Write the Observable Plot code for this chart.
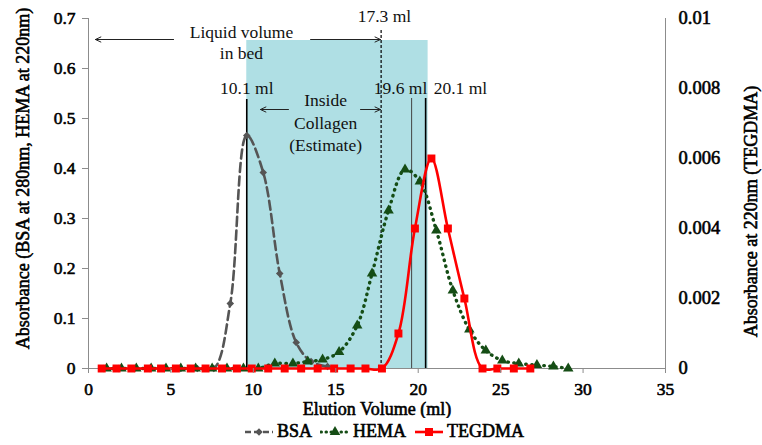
<!DOCTYPE html>
<html>
<head>
<meta charset="utf-8">
<script src="https://cdn.jsdelivr.net/npm/d3@7"></script>
<script src="https://cdn.jsdelivr.net/npm/@observablehq/plot@0.6"></script>
<style>
  body { margin: 0; background: #fff; font-family: "Liberation Serif", serif; }
  #legend { display: flex; justify-content: center; align-items: center; height: 27px;
            font: 18px "Liberation Serif", serif; padding-left: 6px;
            -webkit-text-stroke: 0.6px #000; color: #000; }
  .item { display: flex; align-items: center; margin: 0 4px; }
  .item svg { margin-right: 3px; }
  .chart g[aria-label$="tick label"] text { stroke: #000; stroke-width: 0.6px; paint-order: stroke; }
</style>
</head>
<body>
<div id="chart"></div>
<div id="legend"></div>
<script>
// ---- data ----
const bsaX = [0.9, 1.8, 2.8, 3.7, 4.6, 5.6, 6.6, 7.6, 8.6, 9.6, 10.6, 11.6, 12.6, 13.5, 14.5];
const bsaY = [0, 0, 0, 0, 0, 0, 0, 0, 0.13, 0.466, 0.392, 0.19, 0.052, 0.014, 0.004];

const hemaX = [1.1, 2.0, 2.9, 3.8, 4.7, 5.6, 6.5, 7.5, 8.4, 9.4, 10.3, 11.3, 12.4, 13.3, 14.2, 15.2, 16.3, 17.2, 18.2, 19.2, 20.1, 21.1, 22.1, 23.1, 24.1, 25.1, 26.1, 27.2, 28.2, 29.1];
const hemaY = [0, 0, 0, 0, 0, 0, 0, 0, 0, 0, 0, 0.01, 0.01, 0.014, 0.018, 0.033, 0.086, 0.19, 0.316, 0.398, 0.374, 0.276, 0.156, 0.078, 0.036, 0.016, 0.01, 0.007, 0.004, 0];

const tegdmaX = [0.8, 1.7, 2.6, 3.6, 4.4, 5.3, 6.2, 7.1, 8.1, 9.0, 9.9, 10.9, 11.9, 12.9, 13.9, 14.9, 15.9, 16.8, 17.8, 18.8, 19.8, 20.8, 21.8, 22.8, 23.9, 24.8, 25.8, 26.8];
const tegdmaY = [0, 0, 0, 0, 0, 0, 0, 0, 0, 0, 0, 0, 0, 0, 0, 0, 0, 0, 0, 0.001, 0.004, 0.006, 0.004, 0.002, 0, 0, 0, 0];

const xTicks = [0, 5, 10, 15, 20, 25, 30, 35];
const leftTicks = [0, 0.1, 0.2, 0.3, 0.4, 0.5, 0.6, 0.7];
const rightTicks = [0, 0.002, 0.004, 0.006, 0.008, 0.01];

const seriesNames = ["BSA", "HEMA", "TEGDMA"];
const xLabel = "Elution Volume (ml)";
const yLeftLabel = "Absorbance (BSA at 280nm, HEMA at 220nm)";
const yRightLabel = "Absorbance at 220nm (TEGDMA)";

// annotations (in data units)
const collagenRegion = [{x1: 9.6, x2: 20.6, y1: 0, y2: 0.656}];
const volumeLines = [
  {x: 9.6, top: 0.538},
  {x: 17.75, top: 0.68},
  {x: 19.6, top: 0.54},
  {x: 20.45, top: 0.54}
];
const annotationTexts = [
  {x: 9.28, y: 0.672, text: "Liquid volume"},
  {x: 9.28, y: 0.630, text: "in bed"},
  {x: 17.95, y: 0.704, text: "17.3 ml"},
  {x: 9.6, y: 0.560, text: "10.1 ml"},
  {x: 18.93, y: 0.560, text: "19.6 ml"},
  {x: 22.56, y: 0.560, text: "20.1 ml"},
  {x: 14.38, y: 0.536, text: "Inside"},
  {x: 14.38, y: 0.490, text: "Collagen"},
  {x: 14.38, y: 0.446, text: "(Estimate)"}
];
const arrows = [
  {x1: 5.16, x2: 0.42, y: 0.658},
  {x1: 13.47, x2: 17.71, y: 0.658},
  {x1: 12.13, x2: 10.43, y: 0.518},
  {x1: 16.5, x2: 17.71, y: 0.518}
];

// ---- build tables ----
const k = leftTicks[leftTicks.length - 1] / rightTicks[rightTicks.length - 1]; // right -> left units
const bsa = bsaX.map((x, i) => ({x, y: bsaY[i]}));
const hema = hemaX.map((x, i) => ({x, y: hemaY[i]}));
const tegdma = tegdmaX.map((x, i) => ({x, y: tegdmaY[i]}));

const C_BSA = "#555555", C_HEMA = "#154d15", C_TEG = "#ff0000", C_AXIS = "#8c8c8c";
const annFont = 17.5;
const bold = {stroke: "#000", strokeWidth: 0.6, paintOrder: "stroke", fill: "#000", textAnchor: "middle", lineAnchor: "middle"};

const chart = Plot.plot({
  width: 762,
  height: 418,
  marginLeft: 88,
  marginRight: 97,
  marginTop: 18,
  marginBottom: 50,
  className: "chart",
  x: {domain: [0, 35]},
  y: {domain: [0, 0.7]},
  style: {fontFamily: "Liberation Serif", fontSize: "16px", background: "#fff", color: "#000"},
  marks: [
    Plot.rect(collagenRegion, {x1: "x1", x2: "x2", y1: "y1", y2: "y2", fill: "#afdfe4"}),
    Plot.ruleX([volumeLines[0]], {x: "x", y1: 0, y2: "top", stroke: "#000", strokeWidth: 1.6}),
    Plot.ruleX([volumeLines[1]], {x: "x", y1: 0, y2: "top", stroke: "#000", strokeWidth: 1.2, strokeDasharray: "3,2"}),
    Plot.ruleX([volumeLines[2]], {x: "x", y1: 0, y2: "top", stroke: "#444", strokeWidth: 1}),
    Plot.ruleX([volumeLines[3]], {x: "x", y1: 0, y2: "top", stroke: "#000", strokeWidth: 1.6}),
    Plot.arrow(arrows, {x1: "x1", x2: "x2", y1: "y", y2: "y", stroke: "#222", strokeWidth: 1, headLength: 9, headAngle: 50}),
    Plot.text(annotationTexts, {x: "x", y: "y", text: "text", fontSize: annFont, fill: "#111", fontWeight: "normal"}),
    // axis lines
    Plot.ruleX([0, 35], {y1: 0, y2: 0.7, stroke: C_AXIS}),
    Plot.ruleY([0], {stroke: C_AXIS}),
    // series
    Plot.line(bsa, {x: "x", y: "y", stroke: C_BSA, strokeWidth: 2.6, strokeDasharray: "9,4.5", curve: "catmull-rom"}),
    Plot.dot(bsa, {x: "x", y: "y", symbol: "diamond2", fill: C_BSA, r: 3.4}),
    Plot.line(hema, {x: "x", y: "y", stroke: C_HEMA, strokeWidth: 3.4, strokeDasharray: "0.5,5.5", strokeLinecap: "round", curve: "catmull-rom"}),
    Plot.dot(hema, {x: "x", y: "y", symbol: "triangle", fill: C_HEMA, r: 3.9}),
    Plot.line(tegdma, {x: "x", y: d => d.y * k, stroke: C_TEG, strokeWidth: 2.6, curve: "catmull-rom"}),
    Plot.dot(tegdma, {x: "x", y: d => d.y * k, symbol: "square", fill: C_TEG, r: 4.5}),
    // axes
    Plot.axisX({ticks: xTicks, tickSize: 5, tickPadding: 9, stroke: C_AXIS, fill: "#000", fontSize: 17.5, label: null}),
    Plot.axisY({ticks: leftTicks, tickSize: 6, tickPadding: 7, stroke: C_AXIS, fill: "#000", fontSize: 17.5, label: null,
                tickFormat: d => String(+d.toFixed(2))}),
    Plot.axisY({anchor: "right", ticks: rightTicks.map(v => v * k), tickSize: 0, tickPadding: 13, fill: "#000", fontSize: 18.5, label: null,
                tickFormat: d => String(+(d / k).toFixed(4))}),
    // axis titles
    Plot.text([xLabel], {...bold, fontSize: 18, text: d => d, frameAnchor: "bottom", dy: 41}),
    Plot.text([yLeftLabel], {...bold, fontSize: 18, text: d => d, frameAnchor: "left", dx: -65, dy: -15, rotate: -90}),
    Plot.text([yRightLabel], {...bold, fontSize: 18, text: d => d, frameAnchor: "right", dx: 86, dy: 18, rotate: -90})
  ]
});
document.getElementById("chart").appendChild(chart);

// ---- legend ----
const legend = document.getElementById("legend");
const styles = [
  {stroke: C_BSA, dash: "6,3", width: 2.5, sym: d3.symbolDiamond2, size: 36, fill: C_BSA},
  {stroke: C_HEMA, dash: "0.5,4.5", width: 3, sym: d3.symbolTriangle, size: 48, fill: C_HEMA, cap: "round"},
  {stroke: C_TEG, dash: null, width: 2.6, sym: d3.symbolSquare, size: 64, fill: C_TEG}
];
seriesNames.forEach((name, i) => {
  const s = styles[i];
  const item = document.createElement("div");
  item.className = "item";
  const svg = d3.create("svg").attr("width", 30).attr("height", 14);
  svg.append("line").attr("x1", 1).attr("x2", 29).attr("y1", 7).attr("y2", 7)
    .attr("stroke", s.stroke).attr("stroke-width", s.width)
    .attr("stroke-dasharray", s.dash).attr("stroke-linecap", s.cap || "butt");
  svg.append("path").attr("d", d3.symbol(s.sym, s.size)()).attr("transform", "translate(15,7)").attr("fill", s.fill);
  item.appendChild(svg.node());
  const t = document.createElement("span");
  t.textContent = name;
  item.appendChild(t);
  legend.appendChild(item);
});
</script>
</body>
</html>
